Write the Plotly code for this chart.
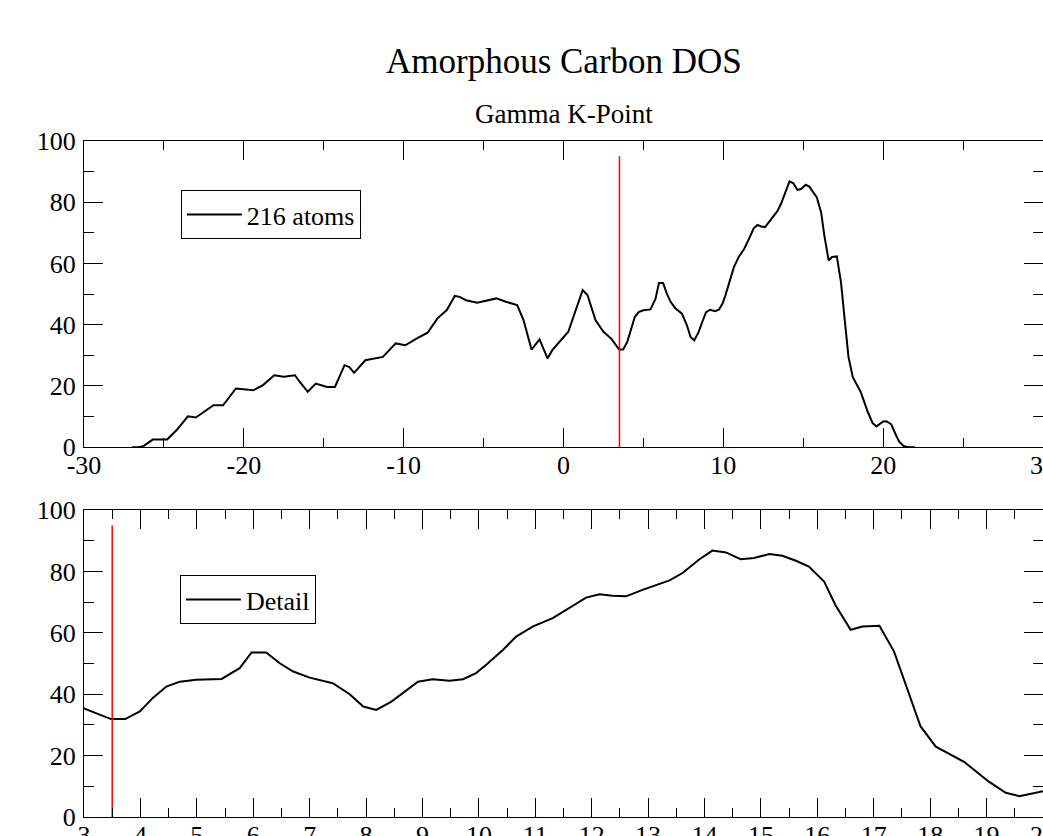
import plotly.graph_objects as go

# ---- data ----
energy = [-27.0, -26.6, -26.3, -25.7, -24.8, -24.2, -23.5, -23.0, -21.9, -21.3,
          -20.9, -20.5, -19.4, -18.8, -18.1, -17.5, -16.8, -16.5, -16.0, -15.5,
          -14.8, -14.3, -13.7, -13.4, -13.1, -12.4, -11.3, -10.5, -9.9, -9.2,
          -8.5, -7.9, -7.3, -6.8, -6.5, -6.1, -5.4, -4.8, -4.2, -3.6,
          -2.9, -2.5, -2.0, -1.5, -1.0, -0.7, -0.25, 0.3, 0.8, 1.2,
          1.5, 2.0, 2.5, 3.0, 3.48, 3.73, 3.99, 4.22, 4.46, 4.70,
          4.99, 5.44, 5.76, 5.97, 6.23, 6.47, 6.71, 7.0, 7.41, 7.71,
          7.95, 8.18, 8.45, 8.68, 8.92, 9.18, 9.48, 9.72, 9.95, 10.13,
          10.43, 10.66, 10.96, 11.31, 11.61, 11.90, 12.14, 12.37, 12.61, 12.90,
          13.38, 13.61, 13.91, 14.14, 14.38, 14.64, 14.88, 15.15, 15.38, 15.62,
          15.85, 16.12, 16.32, 16.59, 16.8, 17.1, 17.36, 17.63, 17.83, 18.10,
          18.6, 19.04, 19.34, 19.58, 20.0, 20.2, 20.5, 20.8, 21.0, 21.3,
          21.6, 22.0]
dos = [0.0, 0.0, 0.3, 2.5, 2.5, 5.6, 10.1, 9.7, 13.7, 13.7,
       16.4, 19.2, 18.6, 20.3, 23.5, 23.0, 23.5, 21.3, 18.1, 20.8,
       19.7, 19.7, 26.8, 26.2, 24.3, 28.4, 29.5, 33.9, 33.3, 35.5,
       37.4, 42.0, 44.8, 49.4, 49.1, 48.0, 47.2, 48.0, 48.6, 47.5,
       46.4, 41.5, 31.9, 35.2, 29.0, 31.7, 34.4, 37.7, 45.3, 51.3,
       49.7, 41.5, 37.7, 35.4, 31.9, 31.9, 34.4, 38.8, 42.5, 44.1,
       44.7, 45.0, 48.5, 53.6, 53.6, 50.1, 47.4, 45.4, 43.6, 40.0,
       36.0, 34.9, 37.6, 40.9, 44.1, 44.9, 44.4, 44.9, 46.9, 49.6,
       54.5, 58.8, 62.1, 64.8, 68.1, 71.5, 72.6, 72.1, 71.9, 74.0,
       77.1, 79.5, 84.0, 86.8, 86.2, 84.0, 84.4, 85.7, 85.1, 83.5,
       81.6, 76.7, 69.1, 61.0, 62.1, 62.3, 53.9, 39.8, 29.5, 22.9,
       18.0, 11.5, 7.9, 6.8, 8.4, 8.5, 7.5, 4.0, 1.8, 0.3,
       0.0, 0.0]

fermi_x = [3.5, 3.5]
fermi_y = [0, 95]

title_text = "Amorphous Carbon DOS"
subtitle_text = "Gamma K-Point"
top_name = "216 atoms"
detail_name = "Detail"

top_tickvals = [-30, -20, -10, 0, 10, 20, 30]
top_ticktext = ["-30", "-20", "-10", "0", "10", "20", "30"]
detail_tickvals = list(range(3, 21))
y_tickvals = [0, 20, 40, 60, 80, 100]

top_range = [-30, 30]
detail_range = [3, 20]
y_range = [0, 100]

FONT = "Liberation Serif"

fig = go.Figure()
fig.add_trace(go.Scatter(x=energy, y=dos, mode="lines", name=top_name,
                         line=dict(color="black", width=2), xaxis="x", yaxis="y",
                         legend="legend"))
fig.add_trace(go.Scatter(x=fermi_x, y=fermi_y, mode="lines", showlegend=False,
                         line=dict(color="red", width=1.5), xaxis="x", yaxis="y"))
fig.add_trace(go.Scatter(x=energy, y=dos, mode="lines", name=detail_name,
                         line=dict(color="black", width=2), xaxis="x2", yaxis="y2",
                         legend="legend2"))
fig.add_trace(go.Scatter(x=fermi_x, y=fermi_y, mode="lines", showlegend=False,
                         line=dict(color="red", width=1.5), xaxis="x2", yaxis="y2"))

axis_common = dict(showline=True, linecolor="black", linewidth=1, mirror="ticks",
                   ticks="inside", ticklen=19, tickwidth=1, tickcolor="black",
                   showgrid=False, zeroline=False, automargin=False,
                   ticklabeloverflow="allow",
                   tickfont=dict(family=FONT, size=26, color="black"))

minor_x = dict(ticks="inside", ticklen=9, tickcolor="black", tickmode="linear", tick0=0)
minor_y = dict(ticks="inside", ticklen=10, tickcolor="black", tickmode="linear", tick0=0, dtick=10)

fig.update_layout(
    width=1043, height=836,
    margin=dict(l=84, r=0, t=141, b=19),
    paper_bgcolor="white", plot_bgcolor="white",
    font=dict(family=FONT, color="black"),
    xaxis=dict(domain=[0, 1], anchor="y", range=top_range,
               tickmode="array", tickvals=top_tickvals, ticktext=top_ticktext,
               minor=dict(dtick=5, **minor_x),
               ticklabelstandoff=-5, **axis_common),
    yaxis=dict(domain=[0.547, 1], anchor="x", range=y_range,
               tickmode="array", tickvals=y_tickvals,
               minor=minor_y, ticklabelstandoff=2, **axis_common),
    xaxis2=dict(domain=[0, 1], anchor="y2", range=detail_range,
                tickmode="array", tickvals=detail_tickvals,
                minor=dict(dtick=0.5, **minor_x),
                ticklabelstandoff=-5, **axis_common),
    yaxis2=dict(domain=[0, 0.454], anchor="x2", range=y_range,
                tickmode="array", tickvals=y_tickvals,
                minor=minor_y, ticklabelstandoff=2, **axis_common),
    legend=dict(x=0.101, y=0.9275, xanchor="left", yanchor="top",
                bgcolor="white", bordercolor="black", borderwidth=1,
                itemwidth=55,
                font=dict(family=FONT, size=26, color="black")),
    legend2=dict(x=0.100, y=0.358, xanchor="left", yanchor="top",
                 bgcolor="white", bordercolor="black", borderwidth=1,
                 itemwidth=55,
                 font=dict(family=FONT, size=26, color="black")),
    annotations=[
        dict(text=title_text, x=0.5, y=(817 - 62) / 676, xref="paper", yref="paper",
             xanchor="center", yanchor="middle", showarrow=False,
             font=dict(family=FONT, size=35, color="black")),
        dict(text=subtitle_text, x=0.5, y=(817 - 114) / 676, xref="paper", yref="paper",
             xanchor="center", yanchor="middle", showarrow=False,
             font=dict(family=FONT, size=27, color="black")),
    ],
)

fig.write_html("out.html")
